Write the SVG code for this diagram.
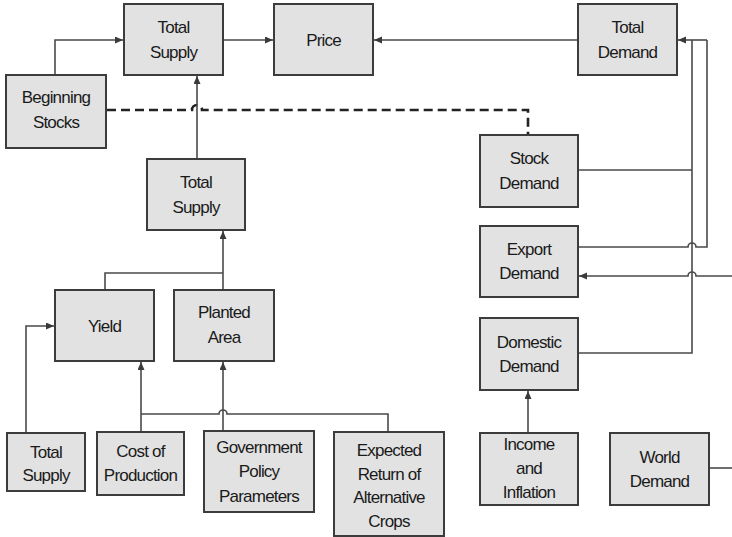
<svg xmlns="http://www.w3.org/2000/svg" width="732" height="537" viewBox="0 0 732 537">
<style>
.box{fill:#e2e2e2;stroke:#3c3c3c;stroke-width:2}
.t{font-family:"Liberation Sans",Arial,sans-serif;font-size:17px;fill:#1a1a1a;text-anchor:middle;letter-spacing:-0.8px}
.c{fill:none;stroke:#4a4a4a;stroke-width:1.6}
.d{fill:none;stroke:#222;stroke-width:2.6;stroke-dasharray:9,5}
</style>
<defs>
<marker id="a" markerWidth="9" markerHeight="8" refX="8" refY="3.5" orient="auto" markerUnits="userSpaceOnUse">
<path d="M0,0 L8,3.5 L0,7 z" fill="#3a3a3a"/>
</marker>
</defs>
<rect width="732" height="537" fill="#fff"/>
<g id="connectors">
<path class="c" d="M55,75 V40 H123" marker-end="url(#a)"/>
<path class="c" d="M223,40 H273" marker-end="url(#a)"/>
<path class="c" d="M578,40 H374" marker-end="url(#a)"/>
<path class="d" d="M107,110 H192 a5,5 0 0 1 10,0 H528 V135"/>
<path class="c" d="M197,159 V76" marker-end="url(#a)"/>
<path class="c" d="M223,290 V231" marker-end="url(#a)"/>
<path class="c" d="M105,290 V273 H223"/>
<path class="c" d="M578,170 H692"/>
<path class="c" d="M692,40 V353 H578"/>
<path class="c" d="M707,40 H678" marker-end="url(#a)"/>
<path class="c" d="M707,40 V247 H696 a4,4 0 0 0 -8,0 H578"/>
<path class="c" d="M732,276 H696 a4,4 0 0 0 -8,0 H579" marker-end="url(#a)"/>
<path class="c" d="M709,468 H732"/>
<path class="c" d="M528,433 V391" marker-end="url(#a)"/>
<path class="c" d="M26,433 V326 H54" marker-end="url(#a)"/>
<path class="c" d="M141,432 V362" marker-end="url(#a)"/>
<path class="c" d="M223,431 V362" marker-end="url(#a)"/>
<path class="c" d="M388,432 V414 H227 a4,4 0 0 0 -8,0 H141"/>
</g>
<g id="total-supply-top"><rect class="box" x="124" y="4" width="99" height="71"/><text class="t" x="173.5" y="33">Total</text><text class="t" x="173.5" y="58">Supply</text></g>
<g id="price"><rect class="box" x="274" y="4" width="99" height="71"/><text class="t" x="323.5" y="46">Price</text></g>
<g id="total-demand"><rect class="box" x="578" y="4" width="99" height="71"/><text class="t" x="627.5" y="33">Total</text><text class="t" x="627.5" y="58">Demand</text></g>
<g id="beginning-stocks"><rect class="box" x="6" y="75" width="100" height="73"/><text class="t" x="56" y="103">Beginning</text><text class="t" x="56" y="128">Stocks</text></g>
<g id="total-supply-mid"><rect class="box" x="147" y="159" width="98" height="71"/><text class="t" x="196" y="188">Total</text><text class="t" x="196" y="213">Supply</text></g>
<g id="stock-demand"><rect class="box" x="480" y="135" width="98" height="72"/><text class="t" x="529" y="164">Stock</text><text class="t" x="529" y="189">Demand</text></g>
<g id="export-demand"><rect class="box" x="480" y="226" width="98" height="71"/><text class="t" x="529" y="255">Export</text><text class="t" x="529" y="279">Demand</text></g>
<g id="domestic-demand"><rect class="box" x="480" y="318" width="98" height="72"/><text class="t" x="529" y="348">Domestic</text><text class="t" x="529" y="372">Demand</text></g>
<g id="yield"><rect class="box" x="55" y="290" width="99" height="71"/><text class="t" x="104.5" y="332">Yield</text></g>
<g id="planted-area"><rect class="box" x="174" y="290" width="100" height="71"/><text class="t" x="224" y="318">Planted</text><text class="t" x="224" y="343">Area</text></g>
<g id="total-supply-bottom"><rect class="box" x="7" y="433" width="78" height="58"/><text class="t" x="46" y="458">Total</text><text class="t" x="46" y="481">Supply</text></g>
<g id="cost-of-production"><rect class="box" x="97" y="432" width="87" height="63"/><text class="t" x="140.5" y="457">Cost of</text><text class="t" x="140.5" y="481">Production</text></g>
<g id="government-policy"><rect class="box" x="204" y="431" width="110" height="81"/><text class="t" x="259" y="453">Government</text><text class="t" x="259" y="477">Policy</text><text class="t" x="259" y="502">Parameters</text></g>
<g id="expected-return"><rect class="box" x="334" y="432" width="110" height="104"/><text class="t" x="389" y="456">Expected</text><text class="t" x="389" y="480">Return of</text><text class="t" x="389" y="503">Alternative</text><text class="t" x="389" y="527">Crops</text></g>
<g id="income-inflation"><rect class="box" x="480" y="433" width="98" height="72"/><text class="t" x="529" y="450">Income</text><text class="t" x="529" y="474">and</text><text class="t" x="529" y="498">Inflation</text></g>
<g id="world-demand"><rect class="box" x="610" y="433" width="99" height="72"/><text class="t" x="659.5" y="463">World</text><text class="t" x="659.5" y="487">Demand</text></g>
</svg>
